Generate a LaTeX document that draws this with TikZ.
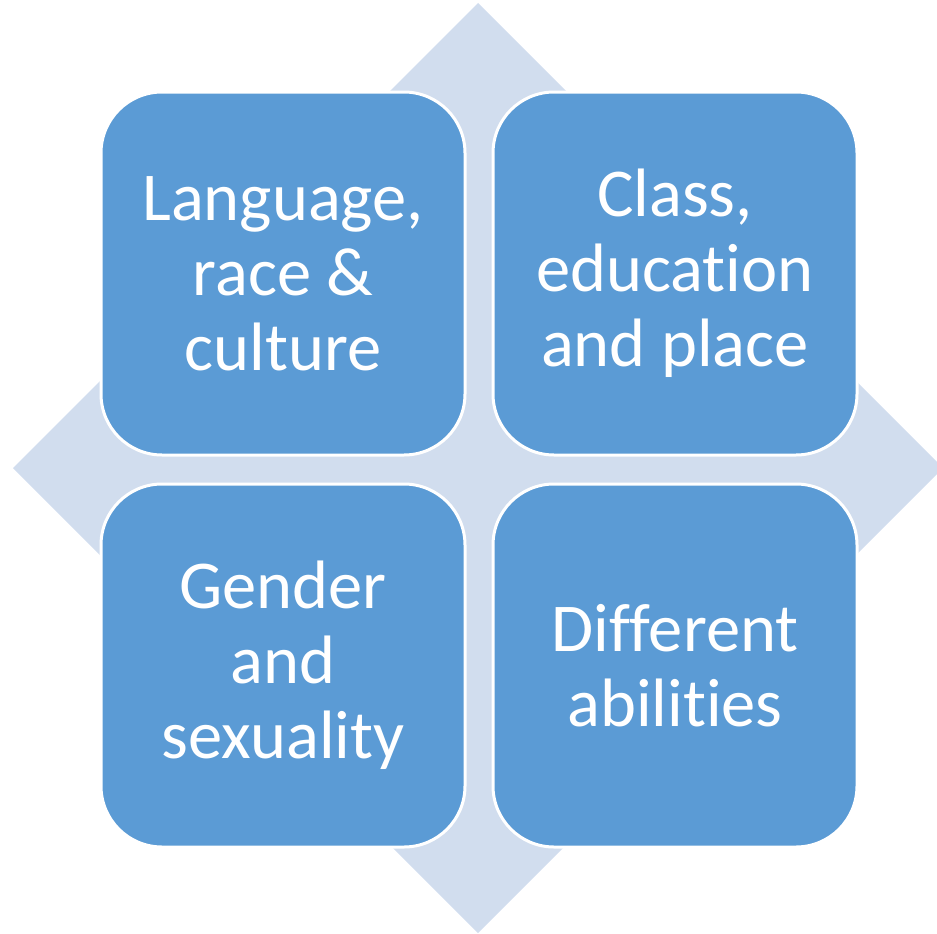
\documentclass[tikz,border=0pt]{standalone}
\usepackage{fontspec}
\setmainfont{Carlito}[Ligatures=NoCommon]
\definecolor{boxblue}{HTML}{5B9BD5}
\definecolor{diamondblue}{HTML}{D1DDEE}
\begin{document}
\begin{tikzpicture}[x=1pt,y=-1pt,
  quad/.style={draw=white, line width=3pt, fill=boxblue, rounded corners=61pt,
    minimum width=364pt, minimum height=363pt, inner sep=0pt,
    text=white, align=center,
    font=\fontsize{68.5}{75}\selectfont}]
\useasboundingbox (0,0) rectangle (937,934);
\fill[diamondblue] (478,3) -- (943,468) -- (478,933) -- (13,468) -- cycle;
\node[quad] (lrc) at (283,273.5) {Language,\\race \&\\culture};
\node[quad] (cep) at (675,273.5) {Class,\\education\\and place};
\node[quad] (gs) at (283,665.5) {Gender\\and\\sexuality};
\node[quad] (da) at (675,665.5) {Different\\abilities};
\end{tikzpicture}
\end{document}
